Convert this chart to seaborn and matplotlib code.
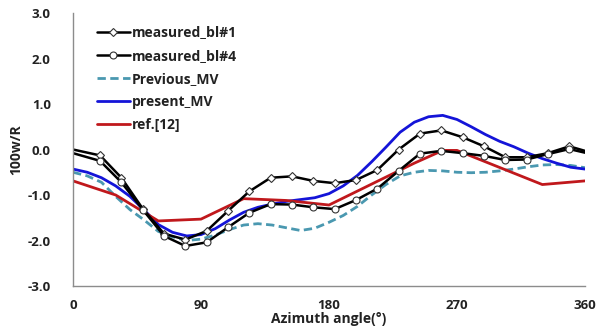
import numpy as np
import pandas as pd
import matplotlib
matplotlib.use("Agg")
import matplotlib.pyplot as plt
import seaborn as sns

# measured blades (marker positions)
meas_x = [0, 19, 34, 49, 64, 79, 94, 109, 124, 139, 154, 169, 184, 199, 214,
          229, 244, 259, 274, 289, 304, 319, 334, 349, 360]
bl1 = [0.0, -0.13, -0.62, -1.3, -1.85, -1.98, -1.79, -1.35, -0.92, -0.62, -0.59,
       -0.69, -0.74, -0.67, -0.45, 0.0, 0.35, 0.42, 0.27, 0.07, -0.17, -0.17,
       -0.08, 0.07, -0.03]
bl4 = [-0.08, -0.25, -0.72, -1.32, -1.9, -2.12, -2.04, -1.71, -1.39, -1.2, -1.21,
       -1.27, -1.31, -1.11, -0.86, -0.47, -0.09, -0.03, -0.08, -0.14, -0.23,
       -0.22, -0.1, 0.01, -0.07]

# computed curves
mv_x = [0, 10, 20, 30, 40, 50, 60, 70, 80, 90, 100, 110, 120, 130, 140, 150,
        160, 170, 180, 190, 200, 210, 220, 230, 240, 250, 260, 270, 280, 290,
        300, 310, 320, 330, 340, 350, 360]
present_mv = [-0.43, -0.5, -0.62, -0.8, -1.03, -1.33, -1.65, -1.82, -1.9, -1.87,
              -1.74, -1.55, -1.38, -1.27, -1.2, -1.14, -1.1, -1.06, -0.97, -0.8,
              -0.57, -0.27, 0.05, 0.38, 0.6, 0.72, 0.75, 0.66, 0.5, 0.33, 0.18,
              0.06, -0.08, -0.2, -0.3, -0.39, -0.43]
previous_mv = [-0.5, -0.58, -0.72, -1.03, -1.32, -1.55, -1.8, -1.92, -2.0, -1.97,
               -1.88, -1.76, -1.66, -1.63, -1.66, -1.72, -1.78, -1.73, -1.6, -1.45,
               -1.25, -1.0, -0.77, -0.58, -0.5, -0.46, -0.47, -0.5, -0.51, -0.5,
               -0.47, -0.43, -0.38, -0.34, -0.33, -0.35, -0.4]

ref_x = [0, 30, 60, 90, 120, 150, 180, 240, 260, 270, 330, 360]
ref12 = [-0.69, -1.0, -1.57, -1.53, -1.08, -1.12, -1.22, -0.3, -0.02, -0.02, -0.77, -0.69]

x_ticks = [0, 90, 180, 270, 360]
y_ticks = [-3.0, -2.0, -1.0, 0.0, 1.0, 2.0, 3.0]

sns.set_style("white")
plt.rcParams['font.family'] = ['Open Sans', 'DejaVu Sans']

fig = plt.figure(figsize=(5.96, 3.30), dpi=100)
ax = fig.add_axes([0.1225, 0.1333, 0.859, 0.8273])

sns.lineplot(x=mv_x, y=previous_mv, ax=ax, color="#4a98b0", lw=2.0,
             linestyle=(0, (3, 1.6)), label="Previous_MV", sort=False)
sns.lineplot(x=mv_x, y=present_mv, ax=ax, color="#1414d8", lw=2.0,
             label="present_MV", sort=False)
sns.lineplot(x=ref_x, y=ref12, ax=ax, color="#c0181c", lw=2.0,
             label="ref.[12]", sort=False)
sns.lineplot(x=meas_x, y=bl1, ax=ax, color="black", lw=1.8, marker="D",
             markersize=4, markerfacecolor="white", markeredgecolor="#333333",
             markeredgewidth=0.8, markevery=slice(1, -1),
             label="measured_bl#1", sort=False)
sns.lineplot(x=meas_x, y=bl4, ax=ax, color="black", lw=1.8, marker="o",
             markersize=5, markerfacecolor="white", markeredgecolor="#333333",
             markeredgewidth=0.8, markevery=slice(1, -1),
             label="measured_bl#4", sort=False)

ax.set_xlim(0, 360)
ax.set_ylim(-3.0, 3.0)
ax.set_xticks(x_ticks)
ax.set_xticklabels([str(v) for v in x_ticks])
ax.set_yticks(y_ticks)
ax.set_yticklabels([f"{v:.1f}" for v in y_ticks])
for s in ["top", "right"]:
    ax.spines[s].set_visible(False)
for s in ["left", "bottom"]:
    ax.spines[s].set_color("#8c8c8c")
    ax.spines[s].set_linewidth(1.0)
ax.tick_params(axis="both", which="both", direction="out", length=4, width=1,
               color="#8c8c8c", labelsize=9.5, labelcolor="#222222")
ax.tick_params(axis="y", pad=12)
ax.tick_params(axis="x", pad=5)
for lab in ax.get_xticklabels() + ax.get_yticklabels():
    lab.set_fontweight("bold")

ax.set_xlabel("Azimuth angle(°)", fontsize=10, fontweight="bold", color="#222222", labelpad=0)
ax.set_ylabel("100w/R", fontsize=10, fontweight="bold", color="#222222", labelpad=3)

handles, labels = ax.get_legend_handles_labels()
order = ["measured_bl#1", "measured_bl#4", "Previous_MV", "present_MV", "ref.[12]"]
hmap = dict(zip(labels, handles))
leg = ax.legend([hmap[k] for k in order], order, loc="upper left",
                bbox_to_anchor=(0.03, 0.985), frameon=False,
                prop={"weight": "bold", "size": 10}, handlelength=2.4,
                handletextpad=0.15, labelspacing=0.66, borderaxespad=0.2)
for t in leg.get_texts():
    t.set_color("#222222")

fig.savefig("out.png", dpi=100)
